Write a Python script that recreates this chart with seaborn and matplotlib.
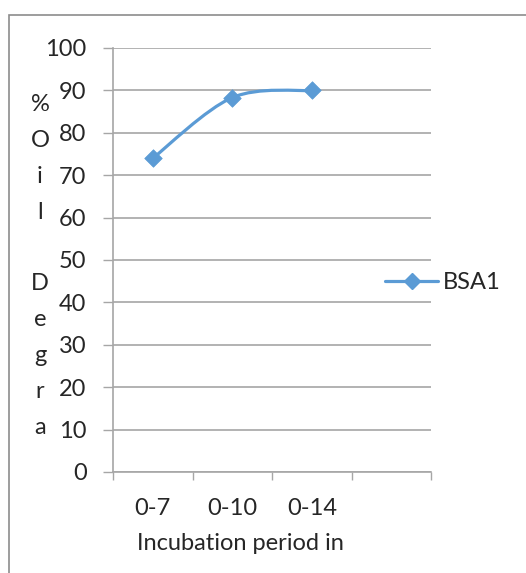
"""Line chart: % oil degradation by incubation period (BSA1)."""

import matplotlib

matplotlib.use("Agg")
import matplotlib.pyplot as plt
import numpy as np
import pandas as pd
import seaborn as sns
from matplotlib.lines import Line2D
from matplotlib.patches import PathPatch, Rectangle
from matplotlib.path import Path

periods = ["0-7", "0-10", "0-14"]
bsa1 = [74.0, 88.3, 90.0]
series_name = "BSA1"
y_ticks = [0, 10, 20, 30, 40, 50, 60, 70, 80, 90, 100]
n_slots = 4

BLUE = "#5B9BD5"
GRID = "#a6a6a6"
FS = 17

sns.set_theme(style="white")
plt.rcParams["font.family"] = ["Lato", "DejaVu Sans"]
plt.rcParams["font.size"] = FS


def smooth_path(xs, ys):
    # Excel-style smoothed line: cubic Bezier segments with
    # Catmull-Rom tangents (1/6 of neighbour difference)
    pts = np.column_stack([xs, ys]).astype(float)
    n = len(pts)
    verts = [pts[0]]
    codes = [Path.MOVETO]
    for i in range(n - 1):
        p0 = pts[max(i - 1, 0)]
        p1 = pts[i]
        p2 = pts[i + 1]
        p3 = pts[min(i + 2, n - 1)]
        c1 = p1 + (p2 - p0) / 6.0
        c2 = p2 - (p3 - p1) / 6.0
        verts += [c1, c2, p2]
        codes += [Path.CURVE4] * 3
    return Path(verts, codes)


df = pd.DataFrame({"period": periods, "value": bsa1})
df["pos"] = np.arange(len(df))

fig = plt.figure(figsize=(5.26, 5.73), dpi=100)
ax = fig.add_axes([113 / 526, 1 - 472 / 573, 318 / 526, 424 / 573])

# chart border
fig.patches.append(
    Rectangle((9.5 / 526, -0.1), 1.2, 1 - 14.5 / 573 + 0.1,
              transform=fig.transFigure, fill=False,
              edgecolor="#8c8c8c", linewidth=1.2)
)

ax.add_patch(PathPatch(smooth_path(df["pos"], df["value"]),
                       facecolor="none", edgecolor=BLUE,
                       linewidth=2.3, capstyle="round", zorder=3))
sns.scatterplot(data=df, x="pos", y="value", marker="D", s=80,
                color=BLUE, edgecolor=BLUE, linewidth=0.5,
                ax=ax, zorder=4, legend=False)

ax.set_xlim(-0.5, n_slots - 0.5)
ax.set_ylim(0, 100)
ax.set_yticks(y_ticks)
ax.set_xticks(df["pos"])
ax.set_xticklabels(periods)
ax.set_xticks(np.arange(n_slots + 1) - 0.5, minor=True)
ax.tick_params(axis="x", which="major", length=0, pad=19, labelsize=FS)
ax.tick_params(axis="x", which="minor", length=6, width=1,
               color=GRID, direction="out", bottom=True)
ax.tick_params(axis="y", length=7, width=1, color=GRID,
               direction="out", pad=12, left=True, labelsize=FS)
ax.grid(axis="y", color=GRID, linewidth=1.2)
ax.set_axisbelow(True)
for side in ["top", "right"]:
    ax.spines[side].set_visible(False)
for side in ["left", "bottom"]:
    ax.spines[side].set_color(GRID)
    ax.spines[side].set_linewidth(1.2)
ax.set_xlabel("")
ax.set_ylabel("")

handle = Line2D([], [], color=BLUE, linewidth=2.3, marker="D",
                markersize=8, label=series_name)
fig.legend(handles=[handle], loc="center left",
           bbox_to_anchor=(364 / 526, 1 - 283 / 573),
           frameon=False, handlelength=2.25, handletextpad=0.2,
           fontsize=FS)

fig.text(40 / 526, 1 - 266 / 573, "%\nO\ni\nl\n\nD\ne\ng\nr\na",
         ha="center", va="center", linespacing=1.88, fontsize=FS)
fig.text(240 / 526, 1 - 543 / 573, "Incubation period in",
         ha="center", va="center", fontsize=FS)

fig.savefig("out.png", dpi=100)
plt.close(fig)
